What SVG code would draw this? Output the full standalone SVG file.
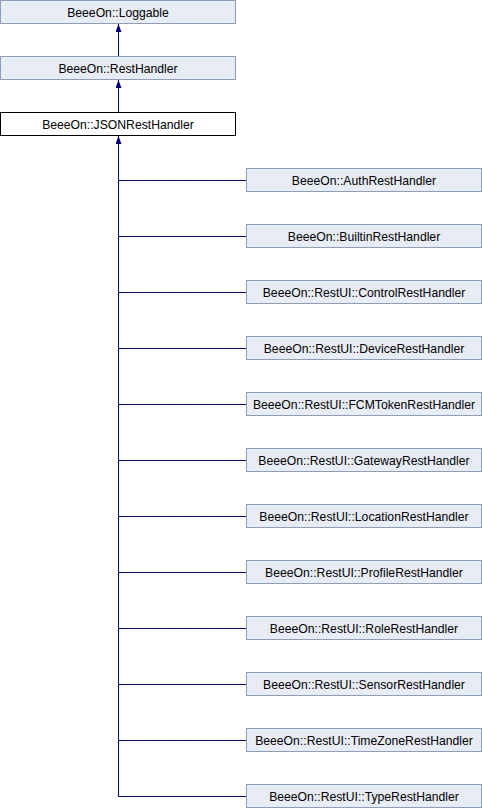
<svg xmlns="http://www.w3.org/2000/svg" width="482" height="808" viewBox="0 0 482 808">
<style>
.n rect{fill:#E8ECF5;stroke:#8C9DBF;stroke-width:1}
.n.w rect{fill:#FFFFFF;stroke:#000000}
.n text{font-family:"Liberation Sans",Arial,sans-serif;font-size:12.2px;fill:#000;text-anchor:middle}
.e{stroke:#000080;stroke-width:1;fill:none}
</style>
<defs>
<marker id="a" markerWidth="8" markerHeight="6" refX="8" refY="3" orient="auto" markerUnits="userSpaceOnUse" viewBox="0 0 8 6"><path d="M0,0 L8,3 L0,6 Z" fill="#000080"/></marker>
</defs>
<rect width="482" height="808" fill="#fff"/>
<g id="edges">
<path class="e" d="M118.5,56 V24" marker-end="url(#a)"/>
<path class="e" d="M118.5,112 V80" marker-end="url(#a)"/>
<path class="e" d="M118.5,796.5 V136" marker-end="url(#a)"/>
<path class="e" d="M118.5,180.5 H246.5 M118.5,236.5 H246.5 M118.5,292.5 H246.5 M118.5,348.5 H246.5 M118.5,404.5 H246.5 M118.5,460.5 H246.5 M118.5,516.5 H246.5 M118.5,572.5 H246.5 M118.5,628.5 H246.5 M118.5,684.5 H246.5 M118.5,740.5 H246.5 M118.5,796.5 H246.5"/>
</g>
<g id="n0" class="n"><rect x="0.5" y="0.5" width="235" height="23"/><text x="118" y="16.5">BeeeOn::Loggable</text></g>
<g id="n1" class="n"><rect x="0.5" y="56.5" width="235" height="23"/><text x="118" y="72.5">BeeeOn::RestHandler</text></g>
<g id="n2" class="n w"><rect x="0.5" y="112.5" width="235" height="23"/><text x="118" y="128.5">BeeeOn::JSONRestHandler</text></g>
<g id="n3" class="n"><rect x="246.5" y="168.5" width="235" height="23"/><text x="364" y="184.5">BeeeOn::AuthRestHandler</text></g>
<g id="n4" class="n"><rect x="246.5" y="224.5" width="235" height="23"/><text x="364" y="240.5">BeeeOn::BuiltinRestHandler</text></g>
<g id="n5" class="n"><rect x="246.5" y="280.5" width="235" height="23"/><text x="364" y="296.5">BeeeOn::RestUI::ControlRestHandler</text></g>
<g id="n6" class="n"><rect x="246.5" y="336.5" width="235" height="23"/><text x="364" y="352.5">BeeeOn::RestUI::DeviceRestHandler</text></g>
<g id="n7" class="n"><rect x="246.5" y="392.5" width="235" height="23"/><text x="364" y="408.5">BeeeOn::RestUI::FCMTokenRestHandler</text></g>
<g id="n8" class="n"><rect x="246.5" y="448.5" width="235" height="23"/><text x="364" y="464.5">BeeeOn::RestUI::GatewayRestHandler</text></g>
<g id="n9" class="n"><rect x="246.5" y="504.5" width="235" height="23"/><text x="364" y="520.5">BeeeOn::RestUI::LocationRestHandler</text></g>
<g id="n10" class="n"><rect x="246.5" y="560.5" width="235" height="23"/><text x="364" y="576.5">BeeeOn::RestUI::ProfileRestHandler</text></g>
<g id="n11" class="n"><rect x="246.5" y="616.5" width="235" height="23"/><text x="364" y="632.5">BeeeOn::RestUI::RoleRestHandler</text></g>
<g id="n12" class="n"><rect x="246.5" y="672.5" width="235" height="23"/><text x="364" y="688.5">BeeeOn::RestUI::SensorRestHandler</text></g>
<g id="n13" class="n"><rect x="246.5" y="728.5" width="235" height="23"/><text x="364" y="744.5">BeeeOn::RestUI::TimeZoneRestHandler</text></g>
<g id="n14" class="n"><rect x="246.5" y="784.5" width="235" height="23"/><text x="364" y="800.5">BeeeOn::RestUI::TypeRestHandler</text></g>
</svg>
